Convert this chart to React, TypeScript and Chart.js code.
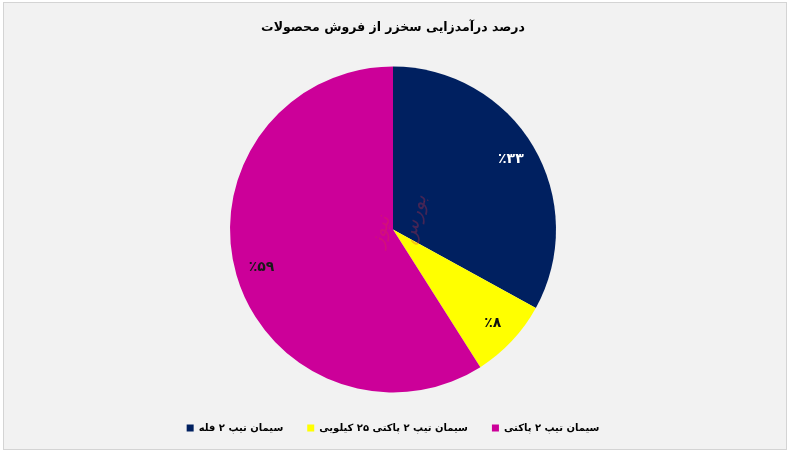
import React, { useEffect, useRef } from 'react';
import { Chart, registerables } from 'chart.js';

Chart.register(...registerables);

const titleText = 'درصد درآمدزایی سخزر از فروش محصولات';
const categories = ['سیمان تیپ ۲ فله', 'سیمان تیپ ۲ پاکتی ۲۵ کیلویی', 'سیمان تیپ ۲ پاکتی'];
const values = [33, 8, 59];
const valueLabels = ['٪۳۳', '٪۸', '٪۵۹'];
const sliceColors = ['#002060', '#FFFF00', '#CC0099'];
const labelColors = ['#ffffff', '#111111', '#1a1a1a'];
const watermarkWords = ['بورس', 'نیوز'];

const FONT = '"DejaVu Sans", sans-serif';

const backgroundPlugin = {
  id: 'bgFrame',
  beforeDraw(chart: any) {
    const { ctx, width, height } = chart;
    ctx.save();
    ctx.fillStyle = '#ffffff';
    ctx.fillRect(0, 0, width, height);
    ctx.fillStyle = '#f2f2f2';
    ctx.fillRect(3.5, 2.5, 783, 447);
    ctx.strokeStyle = '#d4d4d4';
    ctx.lineWidth = 1;
    ctx.strokeRect(3.5, 2.5, 783, 447);
    ctx.restore();
  },
};

const labelPlugin = {
  id: 'sliceLabels',
  afterDatasetsDraw(chart: any) {
    const { ctx } = chart;
    const meta = chart.getDatasetMeta(0);
    ctx.save();
    const a0 = meta.data[0];
    if (a0) {
      const cx = a0.x, cy = a0.y;
      ctx.fillStyle = 'rgba(225, 50, 60, 0.3)';
      ctx.font = 'italic 20px ' + FONT;
      ctx.textAlign = 'center';
      ctx.textBaseline = 'middle';
      ctx.save();
      ctx.translate(cx + 22, cy - 10);
      ctx.rotate(-75 * Math.PI / 180);
      ctx.fillText(watermarkWords[0], 0, 0);
      ctx.restore();
      ctx.save();
      ctx.translate(cx - 12, cy + 2);
      ctx.rotate(-75 * Math.PI / 180);
      ctx.fillText(watermarkWords[1], 0, 0);
      ctx.restore();
    }
    meta.data.forEach((arc: any, i: number) => {
      const p = arc.getProps(['x', 'y', 'startAngle', 'endAngle', 'outerRadius'], true);
      const mid = (p.startAngle + p.endAngle) / 2;
      const r = p.outerRadius * 0.84;
      const x = p.x + Math.cos(mid) * r;
      const y = p.y + Math.sin(mid) * r;
      ctx.fillStyle = labelColors[i];
      ctx.font = 'bold 14px ' + FONT;
      ctx.textAlign = 'center';
      ctx.textBaseline = 'middle';
      ctx.fillText(valueLabels[i], x, y);
    });
    ctx.restore();
  },
};

export default function App() {
  const canvasRef = useRef<HTMLCanvasElement | null>(null);

  useEffect(() => {
    if (!canvasRef.current) return;
    const chart = new Chart(canvasRef.current, {
      type: 'pie',
      data: {
        labels: categories,
        datasets: [
          {
            data: values,
            backgroundColor: sliceColors,
            borderWidth: 0,
            radius: 163,
          } as any,
        ],
      },
      options: {
        animation: false,
        responsive: true,
        maintainAspectRatio: false,
        layout: { padding: { left: 0, right: 7, top: 0, bottom: 14 } },
        plugins: {
          title: {
            display: true,
            text: titleText,
            color: '#000000',
            font: { family: FONT, size: 12.5, weight: 'bold' },
            padding: { top: 20, bottom: 25 },
          },
          legend: {
            display: true,
            position: 'bottom',
            labels: {
              color: '#000000',
              font: { family: FONT, size: 10, weight: 'bold' },
              boxWidth: 7,
              boxHeight: 7,
              padding: 24,
            },
          },
          tooltip: { enabled: false },
        },
      },
      plugins: [backgroundPlugin, labelPlugin],
    });
    return () => chart.destroy();
  }, []);

  return (
    <div style={{ position: 'absolute', left: 0, top: 0, width: 793, height: 457 }}>
      <canvas ref={canvasRef} />
    </div>
  );
}
